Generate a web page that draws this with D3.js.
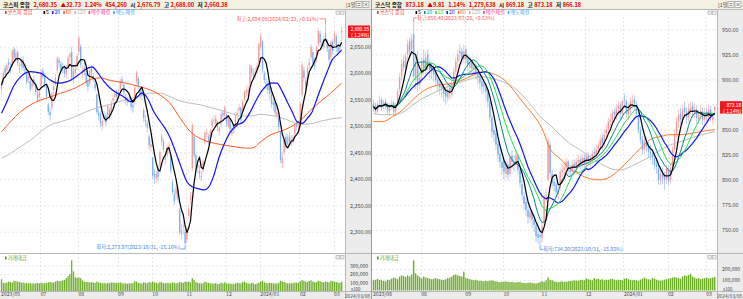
<!DOCTYPE html>
<html><head><meta charset="utf-8">
<script src="https://cdn.jsdelivr.net/npm/d3@7"></script>
<style>
body{margin:0;background:#fff;}
svg{display:block;font-family:"Noto Sans CJK KR","Noto Sans",sans-serif;}
</style></head>
<body><svg id="c" width="743" height="299"></svg>
<script>
// ---------------- KOSPI (left) ----------------
const kospiOpen = [2570,
2585,2610,2605,2620,2612,2615,2645,2628,2640,2610,2613,2625,2608,2600,2588,2585,2575,2588,2578,2560,2555,
2575,2605,2595,2575,2540,2527,2535,2568,2580,2605,2625,2618,2612,2610,2598,2612,2630,2640,2590,2600,2612,
2640,2650,2600,2610,2600,2585,2580,2608,2595,2580,2560,2525,2522,2500,2518,2520,2520,2530,2525,2548,2555,2565,
2560,2570,2588,2578,2555,2545,2555,2550,2540,2545,2585,2590,2570,2565,2530,2512,2505,2480,2460,
2440,2410,2400,2420,2425,2470,2470,2440,2445,2455,2440,2395,2370,2370,2380,2340,2295,2310,2300,
2285,2330,2360,2420,2480,2445,2420,2415,2405,2415,2470,2485,2480,2475,2500,2510,2505,2505,2490,2505,2525,2520,
2520,2500,2512,2485,2500,2500,2520,2530,2535,2530,2550,2562,2565,2580,2610,2595,2598,2605,2620,
2650,2660,2600,2580,2580,2575,2560,2545,2545,2520,2515,2490,2430,2450,2480,2465,2480,2475,2470,2485,2505,2495,
2500,2560,2605,2585,2580,2615,2630,2640,2625,2625,2655,2675,2655,2650,2675,2660,2645,2630,2660,
2660,2670,2650,2645,2677];
const kospiHigh = [2585,
2605,2615,2620,2628,2620,2645,2650,2645,2643,2620,2630,2632,2618,2605,2600,2590,2590,2595,2582,2568,2570,
2608,2610,2598,2580,2545,2535,2565,2582,2598,2632,2630,2622,2620,2615,2615,2633,2640,2650,2612,2618,2638,
2672,2655,2615,2620,2605,2590,2610,2615,2600,2588,2562,2532,2528,2515,2528,2525,2542,2535,2548,2560,2568,2570,
2570,2590,2595,2582,2560,2555,2565,2555,2545,2576,2605,2595,2575,2570,2535,2520,2510,2485,2475,
2442,2418,2415,2425,2455,2485,2475,2448,2465,2470,2445,2398,2380,2390,2388,2345,2315,2320,2305,
2308,2350,2375,2505,2485,2448,2435,2425,2415,2438,2490,2495,2485,2495,2515,2520,2520,2510,2500,2528,2530,2540,
2525,2520,2515,2500,2505,2522,2532,2542,2538,2550,2568,2575,2578,2618,2615,2608,2610,2620,2658,
2675,2662,2605,2590,2585,2580,2565,2552,2548,2535,2520,2492,2450,2478,2485,2485,2488,2482,2485,2505,2512,2505,
2545,2620,2612,2592,2615,2628,2655,2645,2630,2652,2685,2680,2665,2670,2694,2665,2650,2662,2665,
2680,2675,2655,2655,2688];
const kospiLow = [2560,
2580,2595,2600,2608,2600,2612,2622,2620,2612,2600,2605,2605,2598,2578,2580,2565,2568,2575,2558,2545,2548,
2572,2588,2572,2550,2520,2510,2530,2560,2575,2600,2610,2600,2598,2592,2590,2608,2622,2585,2580,2595,2605,
2635,2610,2590,2595,2575,2565,2575,2595,2582,2565,2522,2510,2498,2492,2508,2500,2515,2512,2520,2540,2548,2550,
2552,2565,2575,2558,2540,2538,2545,2530,2525,2540,2580,2570,2552,2550,2508,2500,2488,2455,2450,
2400,2390,2392,2395,2420,2462,2450,2428,2440,2448,2410,2370,2350,2360,2355,2295,2285,2295,2274,
2280,2325,2352,2415,2440,2415,2410,2400,2395,2410,2465,2478,2465,2470,2495,2502,2500,2490,2482,2500,2512,2515,
2498,2495,2488,2480,2485,2495,2512,2522,2505,2525,2545,2555,2558,2575,2592,2588,2590,2598,2615,
2645,2600,2580,2570,2560,2550,2535,2530,2518,2512,2490,2430,2420,2445,2455,2460,2462,2462,2465,2480,2492,2488,
2495,2555,2585,2565,2575,2608,2625,2615,2605,2620,2650,2650,2645,2645,2660,2640,2618,2625,2635,
2655,2640,2635,2638,2660];
const kospiClose = [2577,
2601,2601,2615,2616,2610,2641,2629,2638,2619,2609,2626,2610,2605,2583,2594,2570,2582,2581,2564,2550,2564,
2602,2593,2579,2556,2527,2521,2562,2575,2591,2628,2619,2607,2608,2600,2610,2629,2636,2592,2604,2608,2633,
2667,2616,2605,2603,2581,2574,2605,2602,2591,2571,2526,2520,2505,2509,2516,2506,2538,2519,2543,2552,2561,2556,
2564,2585,2582,2563,2548,2548,2557,2537,2535,2573,2601,2575,2560,2559,2515,2508,2496,2463,2465,
2406,2404,2409,2403,2450,2480,2456,2436,2460,2463,2416,2375,2357,2384,2363,2299,2303,2311,2278,
2302,2343,2368,2502,2444,2422,2427,2410,2404,2433,2487,2488,2470,2491,2510,2512,2515,2497,2496,2522,2520,2535,
2505,2515,2494,2495,2492,2518,2525,2535,2511,2544,2564,2567,2569,2614,2600,2600,2603,2614,2655,
2670,2607,2587,2578,2568,2561,2542,2540,2525,2526,2498,2436,2440,2473,2464,2479,2470,2470,2479,2501,2499,2497,
2542,2615,2591,2576,2610,2620,2650,2620,2614,2649,2680,2658,2653,2664,2668,2647,2625,2659,2642,
2674,2649,2641,2648,2680];
// 거래대금 (thousands of x100)
const kospiVolK = [138,95,90,100,110,105,95,120,115,110,105,95,100,90,95,88,92,85,90,88,95,90,
95,92,90,95,100,105,100,98,110,120,115,118,125,130,150,176,200,360,230,160,155,
158,150,125,110,105,108,100,105,98,95,110,100,95,90,92,88,95,90,100,98,95,92,
95,100,92,88,90,85,88,92,90,115,110,95,90,88,100,95,90,105,98,
110,100,95,90,105,100,92,88,95,90,92,100,95,90,92,105,100,95,110,
105,110,100,150,130,105,95,90,88,92,110,100,95,90,88,85,92,80,85,95,90,100,
90,85,88,82,80,90,95,92,88,105,110,95,90,85,95,88,80,85,100,
110,120,100,95,90,95,92,88,90,85,95,120,110,105,95,90,88,92,90,100,95,98,
115,130,120,110,105,118,125,110,100,105,120,115,105,100,110,105,100,120,115,
110,105,100,95,110];
// moving averages: [candle index, value]
const kospiMA20 = [[0,2524],[3,2546],[7,2577],[10.6,2593],[16,2603],[21.7,2600],[27,2587],[31,2581],[36.5,2584],[40,2590],[44,2600],[47.6,2609],[50.4,2612],[53,2603],[57,2584],[60.6,2571],[64.3,2562],[68,2555],[71.7,2546],[75.4,2555],[78,2562],[81,2553],[84.6,2527],[88.3,2508],[92,2489],[93.9,2476],[96.7,2451],[99.4,2426],[103.1,2394],[105.9,2385],[108.7,2382],[112.4,2379],[115.2,2385],[118,2407],[120.7,2439],[123.5,2464],[127.2,2489],[131,2502],[134.6,2508],[138.3,2527],[142,2552],[145.7,2571],[149.4,2581],[153,2581],[156,2565],[158.7,2546],[161.5,2527],[164.2,2508],[167,2505],[169.8,2514],[172.6,2527],[175.3,2552],[178,2577],[181,2603],[183.7,2625],[186.5,2635],[189,2644]];
const kospiMA60 = [[0,2489],[5,2508],[10.6,2527],[16.1,2540],[21.7,2549],[27.2,2555],[32.8,2562],[38.3,2568],[43.9,2577],[49.4,2588],[55,2591],[60.6,2586],[66.1,2583],[71.7,2579],[77.2,2574],[82.8,2568],[88.3,2558],[93.9,2542],[99.4,2514],[105,2489],[110.6,2476],[116.1,2469],[121.7,2465],[127.2,2462],[132.8,2459],[138.3,2458],[141,2461],[143.9,2470],[149.4,2483],[155,2490],[160.6,2498],[166.1,2511],[171.7,2530],[177.2,2546],[182.8,2562],[189,2581]];
const kospiMA120 = [[0,2439],[5,2448],[10.6,2461],[16.1,2473],[21.7,2489],[27.2,2502],[32.8,2508],[38.3,2514],[43.9,2522],[49.4,2530],[55,2536],[60.6,2541],[66.1,2547],[71.7,2552],[77.2,2557],[82.8,2562],[88.3,2562],[93.9,2555],[99.4,2547],[105,2543],[110.6,2540],[116.1,2535],[121.7,2530],[127.2,2524],[132.8,2519],[138.3,2519],[143.9,2522],[149.4,2520],[155,2516],[160.6,2509],[166.1,2503],[171.7,2504],[177.2,2509],[182.8,2513],[189,2516]];
const kospiMonthIdx = [0,22,43,65,84,103,125,144,166,185];
const kospiMonthLabels = ["2023/05","07","08","09","10","11","12","2024/01","02","03"];
const kospiPriceTicks = [2300,2350,2400,2450,2500,2550,2600,2650];
const kospiVolTicks = [100,200,300];
const kospiHeader = [["코스피 종합","#111"],["2,680.35","#e00000"],["▲32.73","#e00000"],["1.24%","#e00000"],["454,260","#e00000"],["시","#111"],["2,676.79","#e00000"],["고","#111"],["2,688.00","#e00000"],["저","#111"],["2,660.38","#e00000"]];
const kospiLegend = [["코스피 종합","#e8383d"],["5","#000000"],["20","#1e1ee8"],["60","#ff5a1e"],["120","#b4b4b4"],["매수체결","#ff3c9c"],["매도체결","#3aa4ff"]];
const kospiLast = {price:2680.35, pct:"(  1.24%)"};
const kospiHi = {value:2694.08, date:"2024/02/23", pct:"+0.51%"};
const kospiLo = {value:2273.97, date:"2023/10/31", pct:"-15.16%"};

// ---------------- KOSDAQ (right) ----------------
const kosdaqOpen = [876,874,868,878,880, 873,878,875,868,874, 877,867,875,890,903, 918,912,925,938,930,
945,900,920,895,905, 920,910,925,915,912, 910,906,900,896,893, 892,888,882,892,885,
896,908,918,928,928, 920,930,920,912,918, 910,914,906,903,898, 895,893,888,878,862,
850,846,836,826,818, 820,806,815,806,824, 818,815,824,810,796, 784,778,770,762,768,
760,755,746,745,742, 758,785,800,835,806, 798,795,786,792,808, 810,812,818,810,808,
816,812,818,820,815, 822,816,824,818,820, 828,825,830,834,842, 836,846,850,858,860,
868,864,870,874,866, 880,878,865,870,878, 880,875,864,850,840, 830,838,834,828,826,
822,816,812,800,806, 804,800,810,800,812, 830,846,858,866,860, 872,868,862,870,874,
866,870,860,864,868, 860,868,862,870,860,869];
const kosdaqHigh = [880,877,879,884,882, 880,881,877,877,880, 879,877,891,906,920, 924,927,940,942,945,
956,925,928,908,922, 930,928,930,920,918, 915,910,905,900,898, 895,892,895,896,900,
912,922,930,935,932, 935,933,925,922,920, 918,916,910,906,902, 900,896,890,880,865,
856,850,840,830,822, 822,820,818,826,830, 824,830,826,813,800, 788,782,774,773,770,
765,758,752,750,758, 785,792,842,838,810, 802,798,796,812,816, 818,822,820,815,820,
820,822,825,824,826, 826,828,828,825,830, 833,835,838,845,846, 850,855,862,866,870,
872,875,878,877,880, 886,880,876,882,885, 884,878,868,853,844, 842,842,838,835,830,
826,822,815,812,812, 808,815,814,816,833, 850,862,870,872,875, 878,872,876,878,878,
876,874,870,874,872, 872,872,875,874,868,873];
const kosdaqLow = [868,865,866,874,869, 870,871,865,864,870, 864,864,873,887,900, 908,908,920,922,926,
898,890,888,890,900, 905,905,910,902,900, 898,893,888,885,882, 878,875,878,880,882,
892,905,912,918,915, 916,915,908,906,905, 904,900,895,890,886, 886,880,872,858,842,
838,830,818,812,805, 800,802,800,803,812, 808,812,805,792,780, 770,764,756,757,752,
748,738,736,734,738, 755,778,798,802,792, 788,782,780,790,803, 805,808,805,802,805,
806,808,813,810,812, 812,812,814,813,816, 820,822,826,830,830, 833,842,846,852,855,
858,860,865,860,862, 872,862,860,866,872, 870,862,846,835,825, 826,828,822,820,815,
810,806,795,795,796, 790,796,795,797,810, 828,842,852,855,856, 862,856,858,865,862,
862,856,856,860,855, 856,858,858,858,855,866];
const kosdaqClose = [873,868,876,879,872, 877,874,869,874,876, 868,874,888,902,915, 912,923,935,928,940,
903,918,895,902,918, 912,922,915,910,908, 905,899,895,892,890, 886,883,890,887,895,
908,918,925,926,922, 928,920,915,917,911, 913,906,902,897,893, 893,888,878,862,848,
845,835,825,818,812, 808,815,805,822,818, 816,825,810,797,785, 776,770,763,768,760,
755,744,742,743,753, 782,785,839,807,797, 794,788,790,808,810, 812,818,810,808,815,
812,818,820,815,822, 817,824,819,820,826, 826,830,834,840,836, 845,850,858,860,866,
865,870,874,866,878, 879,866,871,878,879, 876,866,850,840,830, 838,833,828,826,822,
815,813,800,806,802, 800,812,799,812,830, 845,858,865,860,870, 868,862,871,872,868,
870,862,864,868,860, 866,863,870,862,863,873];
const kosdaqVolK = [95,100,108,98,95, 90,85,100,95,110, 120,115,105,130,140, 135,125,140,130,150,
280,160,140,125,110, 130,120,115,110,105, 110,115,108,105,100, 98,105,115,120,130,
145,150,140,135,130, 175,115,110,105,100, 95,100,92,90,88, 85,90,88,92,95,
90,85,80,78,80, 82,85,80,78,80, 76,75,78,80,72, 70,68,72,75,70,
68,65,70,78,85, 80,95,120,100,95, 85,80,78,82,85, 80,82,85,88,90,
95,92,90,98,100, 95,110,105,100,95, 115,105,110,100,105, 95,100,98,105,110,
100,95,100,98,95, 110,115,105,100,95, 98,95,90,100,110, 120,110,105,100,115,
110,100,95,90,95, 100,105,110,115,120, 125,120,115,110,130, 140,135,145,155,130,
120,110,115,105,110, 115,120,110,115,120,125];
const kosdaqMA60 = [[0,858],[4.5,858],[9.5,863],[14.4,869.5],[19.4,879.5],[24.4,888],[29.4,893],[34.3,895],[39.3,896],[44.3,899.5],[49.3,904],[54.2,907.7],[59.2,906],[64.2,901],[69.2,891],[74.1,878],[79.1,866],[84,851],[88,831],[93,821],[98,811],[103,805],[108,801],[112.9,800],[117.9,803],[122.9,811],[127.9,821],[132.8,831],[137.8,840],[142.8,843],[147.8,845],[152.7,845],[157.7,846],[162.7,848],[170,850]];
const kosdaqMA120 = [[0,866],[4.5,865],[9.5,865],[14.4,867],[19.4,874.5],[24.4,881],[29.4,886],[34.3,891],[39.3,894.5],[44.3,898],[49.3,901],[54.2,902.7],[59.2,901],[64.2,898],[69.2,893],[74.1,884.5],[79.1,873],[83,863],[88,854.6],[93,844.6],[98,836],[103,829.7],[108,823],[112.9,816.4],[117.9,811.4],[122.9,809.7],[127.9,813],[132.8,818],[137.8,823],[142.8,829.7],[147.8,834.6],[152.7,838],[157.7,841.3],[162.7,844.6],[170,848]];
const kosdaqMonthIdx = [0,24,46,65,84,106,125,147,166];
const kosdaqMonthLabels = ["2023/06","08","09","10","11","12","2024/01","02","03"];
const kosdaqPriceTicks = [750,775,800,825,850,875,900,925,950];
const kosdaqVolTicks = [100,200];
const kosdaqHeader = [["코스닥 종합","#111"],["873.18","#e00000"],["▲9.81","#e00000"],["1.14%","#e00000"],["1,279,638","#e00000"],["시","#111"],["869.18","#e00000"],["고","#111"],["873.18","#e00000"],["저","#111"],["866.18","#e00000"]];
const kosdaqLegend = [["코스닥 종합","#e8383d"],["5","#000000"],["10","#008c8c"],["15","#1ee650"],["20","#1e1ee8"],["60","#ff7a28"],["120","#b4b4b4"],["매수체결","#ff3c9c"],["매도체결","#3aa4ff"]];
const kosdaqLast = {price:873.18, pct:"( 1.14%)"};
const kosdaqHi = {value:956.40, date:"2023/07/26", pct:"+9.53%"};
const kosdaqLo = {value:734.20, date:"2023/10/31", pct:"-15.92%"};

// ---------------- drawing ----------------
const svg = d3.select("#c");
const fmtP = d3.format(",.2f");
const FS = 5.4;

function movingAvg(arr, n) {
  return arr.map((_, i) => d3.mean(arr.slice(Math.max(0, i - n + 1), i + 1)));
}

function drawPanel(P, id) {
  const g = svg.append("g");
  const n = P.close.length;
  const L = P.left, R = P.right, AX = P.axisX;
  const x = d3.scaleLinear().domain([0, n - 1]).range(P.xRange);
  const step = x(1) - x(0);
  const y = d3.scaleLinear().domain(P.yDomain).range(P.yRange);
  const vy = d3.scaleLinear().domain([0, P.volMax]).range(P.volRange);
  const top = 9, pBottom = 253, vBottom = 291;
  const lastY = y(P.last.price);

  // backgrounds
  g.append("rect").attr("x", L).attr("y", 0).attr("width", R - L).attr("height", top).attr("fill", "#f4f1e2");
  g.append("rect").attr("x", AX).attr("y", top).attr("width", R - AX).attr("height", 299 - top).attr("fill", "#ececec");
  g.append("rect").attr("x", L).attr("y", vBottom).attr("width", AX - L).attr("height", 299 - vBottom).attr("fill", "#ececec");

  // grid
  const grid = g.append("g").attr("stroke", "#d9d9d9").attr("stroke-width", 0.6).attr("stroke-dasharray", "2,2");
  P.priceTicks.forEach(t => grid.append("line").attr("x1", L).attr("x2", AX).attr("y1", y(t) + 0.5).attr("y2", y(t) + 0.5));
  P.volTicks.forEach(t => grid.append("line").attr("x1", L).attr("x2", AX).attr("y1", vy(t) + 0.5).attr("y2", vy(t) + 0.5));
  P.monthIdx.slice(1).forEach(i => {
    const gx = Math.round(x(i) - step / 2) + 0.5;
    grid.append("line").attr("x1", gx).attr("x2", gx).attr("y1", top + 8).attr("y2", vBottom);
  });

  // frames
  const fr = g.append("g").attr("stroke", "#b8b8b8").attr("stroke-width", 1);
  fr.append("line").attr("x1", L).attr("x2", R).attr("y1", top + 0.5).attr("y2", top + 0.5);
  fr.append("line").attr("x1", L).attr("x2", R).attr("y1", pBottom + 0.5).attr("y2", pBottom + 0.5);
  fr.append("line").attr("x1", L).attr("x2", R).attr("y1", vBottom + 0.5).attr("y2", vBottom + 0.5);
  fr.append("line").attr("x1", AX + 0.5).attr("x2", AX + 0.5).attr("y1", top).attr("y2", 299);

  // clip
  svg.append("clipPath").attr("id", "clip" + id).append("rect")
    .attr("x", L).attr("y", top + 1).attr("width", AX - L).attr("height", pBottom - top - 1);
  const pg = g.append("g").attr("clip-path", `url(#clip${id})`);

  // candles
  const idx = d3.range(n);
  const upC = "#f39a9a", dnC = "#78aef2";
  const col = i => P.close[i] >= P.open[i] ? upC : dnC;
  pg.append("g").selectAll("line").data(idx).join("line")
    .attr("x1", i => x(i)).attr("x2", i => x(i))
    .attr("y1", i => y(P.high[i])).attr("y2", i => y(P.low[i]))
    .attr("stroke", col).attr("stroke-width", 0.6);
  const bw = Math.max(1, step * 0.7);
  pg.append("g").selectAll("rect").data(idx).join("rect")
    .attr("x", i => x(i) - bw / 2)
    .attr("y", i => y(Math.max(P.open[i], P.close[i])))
    .attr("width", bw)
    .attr("height", i => Math.max(0.7, Math.abs(y(P.open[i]) - y(P.close[i]))))
    .attr("fill", col);

  // moving averages
  const lineArr = d3.line().x((d, i) => x(i)).y(d => y(d));
  const lineSparse = d3.line().x(d => x(d[0])).y(d => y(d[1])).curve(d3.curveMonotoneX);
  P.sparse.forEach(s => pg.append("path").attr("d", lineSparse(s.data)).attr("fill", "none")
    .attr("stroke", s.color).attr("stroke-width", s.w));
  P.computed.slice().reverse().forEach(s => pg.append("path").attr("d", lineArr(movingAvg(P.close, s.n)))
    .attr("fill", "none").attr("stroke", s.color).attr("stroke-width", s.w).attr("stroke-linejoin", "round"));

  // volume
  const vbw = Math.max(1, step * 0.72);
  g.append("g").selectAll("rect").data(idx).join("rect")
    .attr("x", i => x(i) - vbw / 2).attr("y", i => vy(P.vol[i]))
    .attr("width", vbw).attr("height", i => vy(0) - vy(P.vol[i]))
    .attr("fill", "#6fae2c");

  // price axis (labels hidden behind the last-price box are left out)
  const shownTicks = P.priceTicks.filter(t => Math.abs(y(t) - lastY) > 8);
  const ya = g.append("g").attr("transform", `translate(${AX + 5},0)`)
    .call(d3.axisRight(y).tickValues(shownTicks).tickFormat(fmtP).tickSize(0).tickPadding(0));
  ya.select(".domain").remove();
  ya.selectAll("text").attr("font-size", FS).attr("fill", "#444").attr("font-family", "Noto Sans CJK KR");
  // volume axis
  const va = g.append("g").attr("transform", `translate(${AX + 5},0)`)
    .call(d3.axisRight(vy).tickValues(P.volTicks).tickFormat(v => d3.format(",")(v * 1000)).tickSize(0).tickPadding(0));
  va.select(".domain").remove();
  va.selectAll("text").attr("font-size", FS - 0.4).attr("fill", "#444").attr("font-family", "Noto Sans CJK KR");
  g.append("text").attr("x", AX + 6).attr("y", vBottom - 0.3).attr("font-size", 4.4).attr("fill", "#444").text("x100");

  // date axis
  const xa = g.append("g").attr("transform", `translate(0,${vBottom + 1.2})`)
    .call(d3.axisBottom(x).tickValues(P.monthIdx).tickFormat((d, i) => P.monthLabels[i]).tickSize(0).tickPadding(0));
  xa.select(".domain").remove();
  xa.selectAll(".tick").attr("transform", d => `translate(${Math.max(L + 1, x(d) - step / 2 + 0.5)},0)`);
  xa.selectAll("text").attr("text-anchor", "start").attr("font-size", FS - 0.3).attr("fill", "#444")
    .attr("font-family", "Noto Sans CJK KR").attr("dy", "0.75em");
  g.append("text").attr("x", R - 1).attr("y", 297.6).attr("text-anchor", "end").attr("font-size", 4.8).attr("fill", "#444").text(P.endDate);

  // last price box
  g.append("rect").attr("x", AX + 3).attr("y", lastY - 5.2).attr("width", R - AX - 4).attr("height", 12.4).attr("fill", "#f4161b");
  const boxFont = "Liberation Sans";
  g.append("text").attr("x", R - 2).attr("y", lastY + 0.4).attr("text-anchor", "end").attr("font-family", boxFont).attr("font-size", 4.7).attr("fill", "#fff").text(fmtP(P.last.price));
  g.append("text").attr("x", R - 2).attr("y", lastY + 6.2).attr("text-anchor", "end").attr("font-family", boxFont).attr("font-size", 4.7).attr("fill", "#fff").text(P.last.pct);

  // high / low annotations
  const hiI = d3.maxIndex(P.high), loI = d3.minIndex(P.low);
  const hx = x(hiI), hy = y(P.hi.value), lx = x(loI), lyy = y(P.lo.value);
  const hiTxt = `최고:${fmtP(P.hi.value)}(${P.hi.date}, ${P.hi.pct})`;
  const loTxt = `최저:${fmtP(P.lo.value)}(${P.lo.date}, ${P.lo.pct})`;
  const hiCol = "#f25a5a", loCol = "#3a86e0";
  if (P.annSide === "left") {
    g.append("path").attr("d", `M${hx - 6},${hy - 4.5}H${hx}V${hy}`).attr("fill", "none").attr("stroke", hiCol).attr("stroke-width", 0.7);
    g.append("text").attr("x", hx - 7).attr("y", hy - 2.5).attr("text-anchor", "end").attr("font-size", FS - 0.2).attr("fill", hiCol).text(hiTxt);
    g.append("path").attr("d", `M${lx - 5},${lyy + 3.5}H${lx}V${lyy}`).attr("fill", "none").attr("stroke", loCol).attr("stroke-width", 0.7);
    g.append("text").attr("x", lx - 5).attr("y", lyy + 4).attr("text-anchor", "end").attr("font-size", FS - 0.2).attr("fill", loCol).text(loTxt);
  } else {
    g.append("path").attr("d", `M${hx},${hy}V${hy - 5}H${hx + 3}`).attr("fill", "none").attr("stroke", hiCol).attr("stroke-width", 0.7);
    g.append("text").attr("x", hx + 3).attr("y", hy - 3).attr("font-size", FS - 0.2).attr("fill", hiCol).text(hiTxt);
    g.append("path").attr("d", `M${lx},${lyy}V${lyy + 3.5}H${lx + 3}`).attr("fill", "none").attr("stroke", loCol).attr("stroke-width", 0.7);
    g.append("text").attr("x", lx + 3).attr("y", lyy + 5.5).attr("font-size", FS - 0.2).attr("fill", loCol).text(loTxt);
  }

  // header
  const ht = g.append("text").attr("x", L + 3).attr("y", 6.6).attr("font-size", 5.6).attr("font-weight", "bold");
  P.header.forEach((h, i) => {
    const prev = i > 0 ? P.header[i - 1][0] : "";
    const gap = i === 0 ? 0 : (["시", "고", "저"].includes(prev) ? 1.5 : 3.5);
    ht.append("tspan").attr("dx", gap).attr("fill", h[1]).text(h[0]);
  });
  g.append("text").attr("x", R - 25).attr("y", 6.6).attr("font-size", 5.2).attr("fill", "#333").text("[1일]");
  [R - 15, R - 8].forEach(bx => {
    g.append("rect").attr("x", bx).attr("y", 1.5).attr("width", 6).attr("height", 6).attr("fill", "#fafafa").attr("stroke", "#888").attr("stroke-width", 0.6);
  });
  g.append("path").attr("d", `M${R - 13.5},3.5h3M${R - 13.5},5.5h3M${R - 6.5},3l3,3M${R - 3.5},3l-3,3`).attr("stroke", "#444").attr("stroke-width", 0.6);

  // legend
  let lxp = L + 5;
  const lg = g.append("g");
  P.legend.forEach((it, i) => {
    lg.append("rect").attr("x", lxp).attr("y", 11).attr("width", 1.6).attr("height", 3).attr("fill", it[1]);
    const t = lg.append("text").attr("x", lxp + 2.5).attr("y", 14.2).attr("font-size", 5.2).attr("fill", it[1]).text(it[0]);
    lxp += 2.5 + t.node().getComputedTextLength() + (i === 0 ? 11 : 3);
  });
  // small window buttons in panels
  [[AX - 9, 11], [AX - 9, pBottom + 2.5]].forEach(([bx, by]) => {
    g.append("rect").attr("x", bx).attr("y", by).attr("width", 3.5).attr("height", 3.5).attr("fill", "#eee").attr("stroke", "#999").attr("stroke-width", 0.5);
    g.append("rect").attr("x", bx + 4.5).attr("y", by).attr("width", 3.5).attr("height", 3.5).attr("fill", "#eee").attr("stroke", "#999").attr("stroke-width", 0.5);
  });
  // volume legend
  g.append("rect").attr("x", L + 5).attr("y", pBottom + 3.5).attr("width", 1.6).attr("height", 3).attr("fill", "#5a9e1a");
  g.append("text").attr("x", L + 7.5).attr("y", pBottom + 6.8).attr("font-size", 5.2).attr("fill", "#5a9e1a").text("거래대금");
}

drawPanel({
  left: 0, right: 371, axisX: 345, xRange: [1.5, 341.7],
  yDomain: [2300, 2650], yRange: [231.7, 46.7],
  volMax: 300, volRange: [291, 265.4],
  open: kospiOpen, high: kospiHigh, low: kospiLow, close: kospiClose, vol: kospiVolK,
  priceTicks: kospiPriceTicks, volTicks: kospiVolTicks,
  monthIdx: kospiMonthIdx, monthLabels: kospiMonthLabels, endDate: "2024/03/08",
  sparse: [
    {data: kospiMA120, color: "#bdbdbd", w: 1},
    {data: kospiMA60, color: "#ff5a1e", w: 1},
    {data: kospiMA20, color: "#1414f0", w: 1.2}],
  computed: [{n: 5, color: "#000", w: 1.2}],
  header: kospiHeader, legend: kospiLegend, last: kospiLast, hi: kospiHi, lo: kospiLo, annSide: "left"
}, "L");

drawPanel({
  left: 372, right: 743, axisX: 717, xRange: [373.5, 714.7],
  yDomain: [750, 950], yRange: [230, 29.3],
  volMax: 200, volRange: [290.5, 269],
  open: kosdaqOpen, high: kosdaqHigh, low: kosdaqLow, close: kosdaqClose, vol: kosdaqVolK,
  priceTicks: kosdaqPriceTicks, volTicks: kosdaqVolTicks,
  monthIdx: kosdaqMonthIdx, monthLabels: kosdaqMonthLabels, endDate: "2024/03/08",
  sparse: [
    {data: kosdaqMA120, color: "#bdbdbd", w: 1},
    {data: kosdaqMA60, color: "#ff7a28", w: 1}],
  computed: [{n: 5, color: "#000", w: 1.2}, {n: 10, color: "#008c8c", w: 1}, {n: 15, color: "#22e04a", w: 1}, {n: 20, color: "#1414f0", w: 1.2}],
  header: kosdaqHeader, legend: kosdaqLegend, last: kosdaqLast, hi: kosdaqHi, lo: kosdaqLo, annSide: "right"
}, "R");

// divider between the two charts
svg.append("line").attr("x1", 371.5).attr("x2", 371.5).attr("y1", 0).attr("y2", 299).attr("stroke", "#9a9a9a").attr("stroke-width", 1);
</script>
</body></html>
